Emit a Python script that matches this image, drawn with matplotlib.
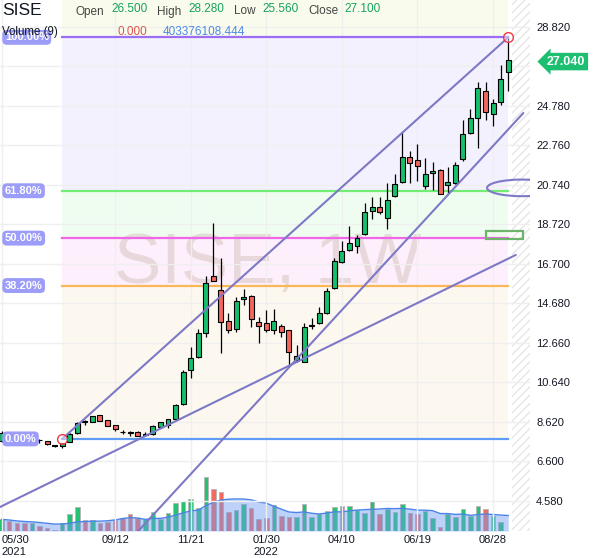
import numpy as np
import pandas as pd
import matplotlib
matplotlib.use("Agg")
import matplotlib.pyplot as plt
import matplotlib.dates as mdates
from matplotlib.patches import Ellipse, Rectangle
from matplotlib.transforms import blended_transform_factory

plt.rcParams['font.family'] = ['Liberation Sans', 'DejaVu Sans']

# weekly bars, first one on 2021-05-30
start = '2021-05-30'
opens = [7.65, 8.05, 7.90, 7.78, 7.66, 7.70, 7.62, 7.40, 7.36, 7.60,
         8.03, 8.63, 8.62, 8.96, 8.71, 8.45, 8.10, 8.08, 8.11, 7.95,
         7.98, 8.37, 8.45, 8.74, 9.55, 11.27, 11.93, 13.16, 16.07, 15.36,
         13.76, 13.35, 14.88, 15.05, 13.71, 13.65, 13.31, 13.51, 13.31, 11.76,
         11.69, 13.50, 13.65, 14.16, 15.44, 16.77, 17.40, 17.62, 18.22, 19.40,
         19.58, 19.02, 20.17, 20.86, 22.14, 22.00, 20.68, 21.33, 21.50, 20.72,
         20.81, 22.04, 23.40, 24.17, 25.54, 24.34, 24.96, 26.50]
highs = [8.12, 8.10, 7.95, 7.85, 7.80, 7.73, 7.64, 7.42, 7.55, 8.02,
         8.60, 8.71, 8.93, 8.98, 8.73, 8.47, 8.20, 8.12, 8.13, 8.10,
         8.45, 8.62, 8.76, 9.55, 11.27, 12.43, 13.36, 16.07, 18.77, 16.98,
         14.18, 14.98, 15.41, 15.10, 13.96, 14.33, 14.37, 13.62, 13.33, 12.54,
         13.65, 13.91, 14.47, 15.44, 16.98, 17.88, 18.63, 18.17, 19.82, 20.10,
         20.13, 20.81, 21.29, 23.45, 22.47, 22.81, 22.09, 21.89, 21.55, 21.66,
         21.89, 24.05, 24.60, 25.98, 25.98, 25.13, 26.87, 28.28]
lows = [7.60, 7.85, 7.70, 7.60, 7.60, 7.55, 7.44, 7.33, 7.26, 7.58,
        8.00, 8.45, 8.60, 8.65, 8.40, 8.16, 7.99, 7.89, 7.89, 7.90,
        7.95, 8.35, 8.30, 8.72, 9.50, 10.86, 11.90, 12.97, 15.80, 12.15,
        13.14, 13.22, 14.59, 13.48, 12.66, 13.22, 13.09, 12.97, 11.50, 11.69,
        11.66, 13.35, 13.60, 14.13, 15.40, 16.72, 17.35, 17.23, 18.17, 18.97,
        19.23, 18.46, 20.13, 20.81, 20.84, 20.93, 20.51, 20.47, 20.27, 20.27,
        20.78, 21.97, 23.34, 22.63, 24.05, 23.76, 24.82, 25.56]
closes = [8.05, 7.90, 7.75, 7.68, 7.72, 7.66, 7.47, 7.38, 7.52, 7.98,
          8.57, 8.60, 8.91, 8.67, 8.42, 8.23, 8.07, 8.06, 7.91, 8.00,
          8.42, 8.59, 8.74, 9.47, 11.16, 11.88, 13.16, 15.72, 15.83, 13.70,
          13.31, 14.80, 14.98, 13.86, 13.51, 13.31, 13.79, 13.19, 12.20, 12.00,
          13.45, 13.55, 14.16, 15.30, 16.84, 17.35, 17.74, 18.00, 19.33, 19.62,
          19.33, 19.96, 20.76, 22.14, 21.84, 21.70, 21.28, 21.45, 20.27, 20.86,
          21.75, 23.32, 24.14, 25.67, 24.48, 24.90, 26.14, 27.10]
# volume in millions
volumes = [283, 249, 201, 186, 186, 128, 80, 24, 201, 404,
           588, 266, 266, 186, 211, 266, 322, 404, 322, 290,
           467, 283, 443, 670, 733, 774, 564, 1300, 1016, 951,
           467, 508, 646, 564, 290, 322, 629, 370, 346, 346,
           646, 346, 411, 491, 588, 612, 612, 508, 428, 733,
           404, 532, 453, 646, 443, 404, 491, 322, 104, 404,
           346, 532, 363, 612, 532, 370, 211, 0]

tick_dates = ['2021-05-30', '2021-09-12', '2021-11-21', '2022-01-30',
              '2022-04-10', '2022-06-19', '2022-08-28']
tick_labels = ['05/30\n2021', '09/12', '11/21', '01/30\n2022', '04/10', '06/19', '08/28']
price_ticks = [4.58, 6.60, 8.62, 10.64, 12.66, 14.68, 16.70, 18.72,
               20.74, 22.76, 24.78, 26.80, 28.82]

fib_low, fib_high = 7.74, 28.28
fib_ratios = [0.0, 0.382, 0.5, 0.618, 1.0]
fib_labels = ['0.00%', '38.20%', '50.00%', '61.80%', '100.00%']
fib_start, fib_end = 8, 67  # bar index of the anchors

# trend lines: (bar index, price) pairs
trend_lines = [((8, 7.74), (67, 28.28)),
               ((-1, 4.11), (68, 17.15)),
               ((18, 3.00), (69, 24.41))]

last_price = 27.04

d0 = mdates.date2num(pd.Timestamp(start))


def xnum(i):
    return d0 + 7 * np.asarray(i, dtype=float)


n = len(opens)
x = xnum(np.arange(n))
o = np.array(opens)
h = np.array(highs)
l = np.array(lows)
c = np.array(closes)
up = c >= o

GREEN = '#15bf6c'
RED = '#f3665b'

fig = plt.figure(figsize=(6, 5.58), dpi=100)
ax = fig.add_axes([0, 27 / 558, 530 / 600, 531 / 558])
ax_vol = ax.twinx()
ax.set_zorder(ax_vol.get_zorder() + 1)
ax.patch.set_visible(False)

x_left, x_right = xnum(-0.22), xnum(69.88)
ax.set_xlim(x_left, x_right)
ax.set_ylim(3.03, 30.19)

# --- volume pane (bottom)
vol_colors = ['#22c472' if u else '#f46a5e' for u in up]
ax_vol.bar(x, volumes, width=4.2, color=vol_colors, edgecolor='#b8b8b8', linewidth=0.7)
ma = pd.Series(volumes, dtype=float).rolling(9, min_periods=1).mean()
ax_vol.fill_between(x, 0, ma, color='#6f9cf2', alpha=0.45, lw=0)
ax_vol.plot(x, ma, color='#4b84e8', lw=1)
ax_vol.set_ylim(0, 531 * 24.2)
ax_vol.set_yticks([])
for sp in ax_vol.spines.values():
    sp.set_visible(False)

# --- fib retracement
levels = [fib_low + r * (fib_high - fib_low) for r in fib_ratios]
zone_colors = ['#fdf8ef', '#fdf0fc', '#effdf1', '#f4f1fe']
line_colors = ['#5d9df5', '#f9b75a', '#f067e8', '#72ec72', '#9b6ef3']
fx = [xnum(fib_start), xnum(fib_end)]
for k in range(len(levels) - 1):
    ax.fill_between(fx, levels[k], levels[k + 1], color=zone_colors[k], lw=0, zorder=0.1)
ax.fill_between(fx, fib_high, 30.19, color='#f9fcec', lw=0, zorder=0.1)
for lev, col in zip(levels, line_colors):
    ax.plot(fx, [lev, lev], color=col, lw=1.6, zorder=2)

trans = blended_transform_factory(ax.transAxes, ax.transData)
for lev, lab in zip(levels, fib_labels):
    ax.text(0.009, lev, lab, transform=trans, ha='left', va='center', fontsize=8,
            color='white', fontweight='bold', zorder=5,
            bbox=dict(boxstyle='round,pad=0.22,rounding_size=0.4', fc='#9c9cf9', ec='none'))

# hatched "future" area
ax.axvspan(xnum(67.45), x_right, facecolor='none', edgecolor='#e6e6e6', hatch='////', lw=0, zorder=0.2)

# grid
ax.set_axisbelow(True)
ax.grid(True, color='#efefef', lw=1)

# watermark
ax.text(0.505, 0.5, 'SISE, 1W', transform=ax.transAxes, ha='center', va='center',
        fontsize=51, color='#cdb5ab', alpha=0.4, zorder=0.3)

# --- candles
ax.vlines(x, l, h, color='black', lw=0.9, zorder=3)
body_lo = np.minimum(o, c)
body_h = np.maximum(np.abs(c - o), 0.04)
ax.bar(x, body_h, bottom=body_lo, width=4.6, color=np.where(up, GREEN, RED),
       edgecolor='black', linewidth=0.8, zorder=3.5)

# --- drawings
for (i0, p0), (i1, p1) in trend_lines:
    ax.plot(xnum([i0, i1]), [p0, p1], color='#7d79c6', lw=1.5, zorder=4, solid_capstyle='round')
ax.plot(xnum([fib_start, fib_end]), [fib_low, fib_high], 'o', ms=7,
        mfc=(1, 1, 1, 0.45), mec='#f23645', mew=1.0, zorder=6)
ax.add_patch(Ellipse((xnum(68.8), 20.58), 7 * 9.2, 0.85, fill=False,
                     edgecolor='#7d79c6', lw=1.5, zorder=4))
ax.add_patch(Rectangle((xnum(64.0), 17.95), 7 * 5.0, 0.44, facecolor='none',
                       edgecolor='#6cb36c', lw=1.6, zorder=4))

# --- axes ticks
ax.yaxis.tick_right()
ax.set_yticks(price_ticks)
ax.set_yticklabels(['' if abs(t - 26.8) < 1e-6 else f'{t:.3f}' for t in price_ticks])
ax.tick_params(axis='y', length=0, pad=4.5, labelsize=8, labelcolor='#131722')
ax.set_xticks(mdates.date2num(pd.to_datetime(tick_dates)))
ax.set_xticklabels(tick_labels)
ax.tick_params(axis='x', length=0, pad=3, labelsize=8, labelcolor='#131722')
ax.get_xticklabels()[0].set_horizontalalignment('left')
for sp in ax.spines.values():
    sp.set_visible(False)

ax.text(1.032, last_price, f'{last_price:.3f}', transform=trans, ha='left', va='center',
        fontsize=9, color='white', fontweight='bold', clip_on=False, zorder=7,
        bbox=dict(boxstyle='larrow,pad=0.22', fc='#1cbf6f', ec='none'))

# --- header
W, H = 600, 558


def htext(px, py, s, color, size):
    fig.text(px / W, 1 - py / H, s, color=color, fontsize=size, ha='left', va='baseline')


htext(2, 15, 'SISE', '#131722', 12.5)
val_green = '#17a15d'
htext(76, 14.5, 'Open', '#444444', 8.5)
htext(111, 12.5, '26.500', val_green, 8.5)
htext(157, 14.5, 'High', '#444444', 8.5)
htext(188, 12.5, '28.280', val_green, 8.5)
htext(234, 14.5, 'Low', '#444444', 8.5)
htext(262, 12.5, '25.560', val_green, 8.5)
htext(308, 14.5, 'Close', '#444444', 8.5)
htext(344, 12.5, '27.100', val_green, 8.5)
htext(2, 35, 'Volume (9)', '#131722', 8.3)
htext(118, 35, '0.000', '#e0534f', 8.5)
htext(163, 35, '403376108.444', '#4c8ae6', 8.5)

fig.savefig('out.png', dpi=100)
